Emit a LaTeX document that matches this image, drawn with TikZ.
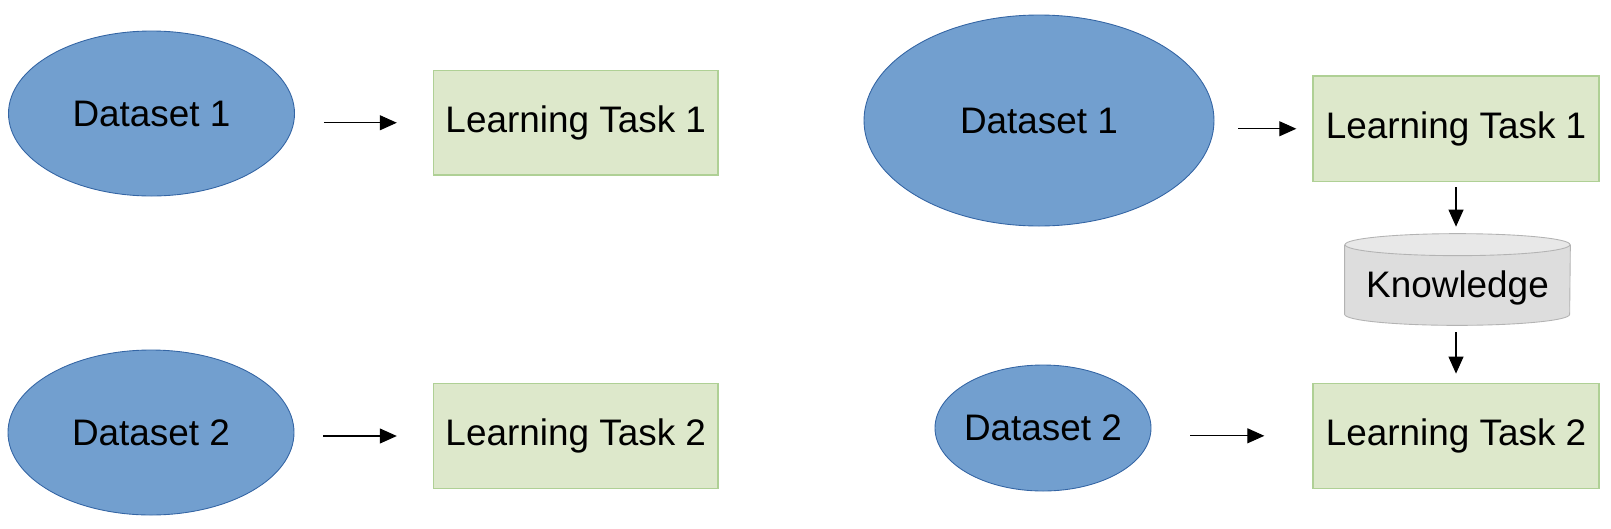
\documentclass[tikz,border=0pt]{standalone}
\usepackage{fontspec}
\setmainfont{Liberation Sans}
\usepackage{tikz}
\usetikzlibrary{positioning,calc,arrows.meta,backgrounds,shapes.geometric}
\definecolor{dsfill}{HTML}{729FCF}
\definecolor{dsline}{HTML}{3465A4}
\definecolor{taskfill}{HTML}{DDE8CB}
\definecolor{taskline}{HTML}{AFD095}
\definecolor{kfill}{HTML}{DDDDDD}
\definecolor{ktop}{HTML}{E8E8E8}
\definecolor{kline}{HTML}{B3B3B3}

\begin{document}
\begin{tikzpicture}[
		font=\fontsize{21}{25}\selectfont,
		dset/.style={ellipse,fill=dsfill,draw=dsline,line width=0.5pt,inner sep=0pt},
		task/.style={rectangle,fill=taskfill,draw=taskline,line width=0.8pt,minimum width=5.69cm,minimum height=2.09cm,inner sep=0pt},
		arr/.style={-{Triangle[length=0.34cm,width=0.30cm]},line width=0.6pt},
	]
		\useasboundingbox (0,0) rectangle (32.22,-10.56);
		% left: separate learning
		\node[dset,minimum width=5.72cm,minimum height=3.30cm] (dsA) at (3.03,-2.27) {Dataset 1};
		\node[dset,minimum width=5.72cm,minimum height=3.30cm] (dsB) at (3.02,-8.65) {Dataset 2};
		\node[task] (ltA) at (11.515,-2.455) {Learning Task 1};
		\node[task] (ltB) at (11.515,-8.72) {Learning Task 2};
		% right: transfer learning
		\node[dset,minimum width=7.0cm,minimum height=4.22cm] (dsC) at (20.78,-2.41) {Dataset 1};
		\node[dset,inner xsep=-0.1cm,minimum width=4.32cm,minimum height=2.52cm] (dsD) at (20.86,-8.56) {Dataset 2};
		\node[task,minimum width=5.72cm,minimum height=2.11cm] (ltC) at (29.12,-2.575) {Learning Task 1};
		\node[task,minimum width=5.72cm,minimum height=2.10cm] (ltD) at (29.12,-8.716) {Learning Task 2};
		\node[rectangle,minimum width=4.5cm,minimum height=1.82cm,inner sep=0pt] (know) at (29.15,-5.59) {\raisebox{-0.16cm}[\height][\depth]{Knowledge}};
		\begin{scope}[on background layer]
			\filldraw[fill=kfill,draw=kline,line width=0.5pt] ($(know.north west)+(0,-0.22)$) -- ($(know.south west)+(0,0.22)$)
				arc[start angle=180,end angle=360,x radius=2.25cm,y radius=0.22cm] -- ($(know.north east)+(0,-0.22)$);
			\filldraw[fill=ktop,draw=kline,line width=0.5pt] ($(know.north)+(0,-0.22)$) ellipse[x radius=2.25cm,y radius=0.22cm];
		\end{scope}
		% arrows
		\draw[arr,shorten <=0.58cm,shorten >=0.72cm] (ltA.west -| dsA.east) -- (ltA.west);
		\draw[arr,shorten <=0.58cm,shorten >=0.72cm] (ltB.west -| dsB.east) -- (ltB.west);
		\draw[arr,shorten <=0.48cm,shorten >=0.32cm] (ltC.west -| dsC.east) -- (ltC.west);
		\draw[arr,shorten <=0.78cm,shorten >=0.96cm] (ltD.west -| dsD.east) -- (ltD.west);
		\draw[arr,shorten <=0.10cm,shorten >=0.14cm] (ltC.south) -- (ltC.south |- know.north);
		\draw[arr,shorten <=0.14cm,shorten >=0.18cm] (know.south -| ltD.north) -- (ltD.north);
	\end{tikzpicture}
\end{document}
